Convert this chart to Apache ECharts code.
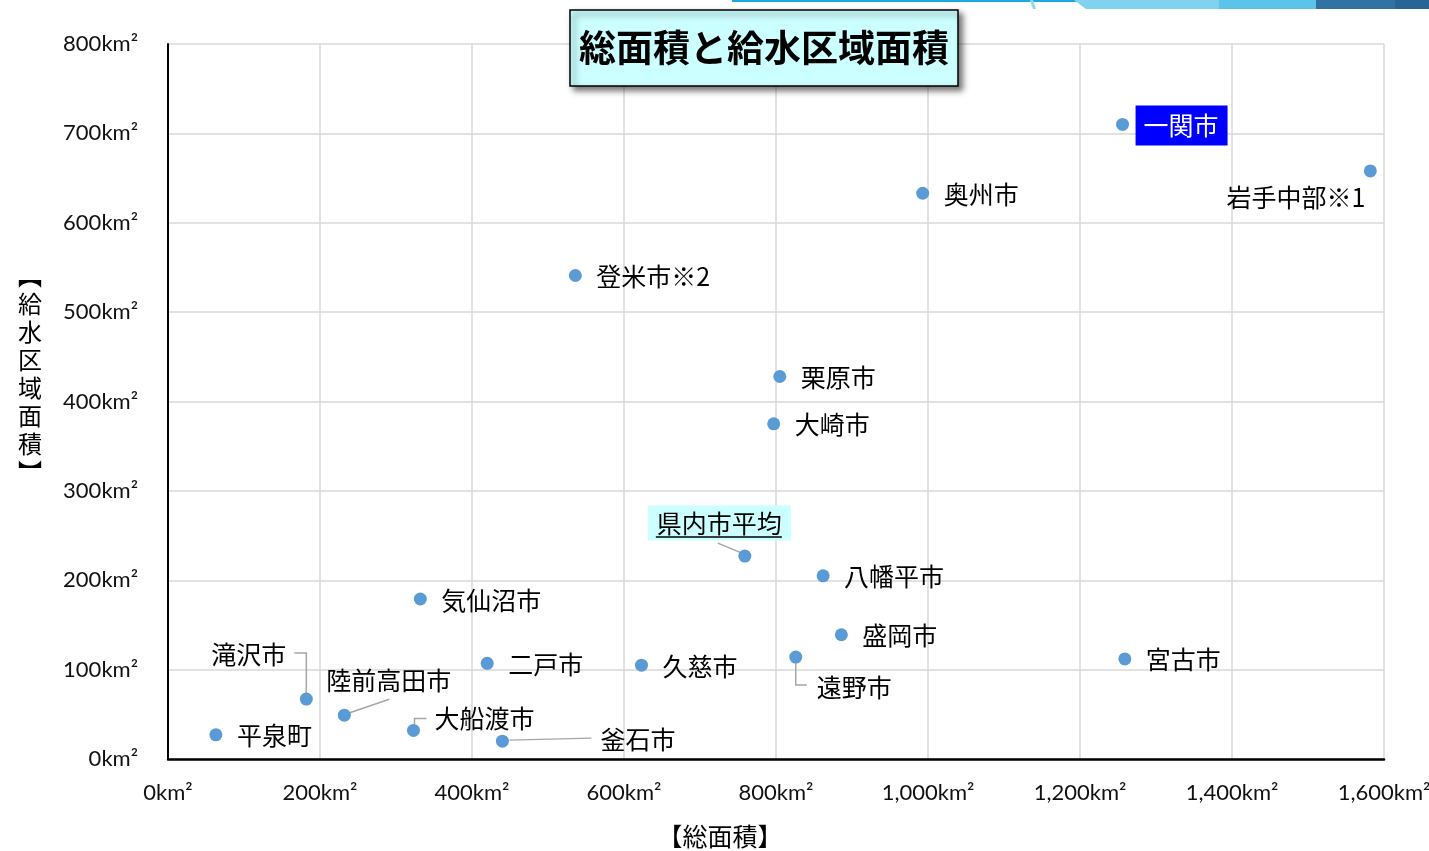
<!DOCTYPE html>
<html><head><meta charset="utf-8">
<script src="https://cdn.jsdelivr.net/npm/echarts@6/dist/echarts.min.js"></script>
<style>html,body{margin:0;padding:0;background:#fff}#c{width:1429px;height:851px}</style>
</head><body><div id="c"></div>
<script>
// ---- data ----
const cities = ['一関市','岩手中部※1','奥州市','登米市※2','栗原市','大崎市','県内市平均','八幡平市','気仙沼市','盛岡市','宮古市','遠野市','二戸市','久慈市','滝沢市','陸前高田市','大船渡市','平泉町','釜石市'];
const totalArea =   [1256, 1582, 993, 536, 805, 797, 759, 862, 332, 886, 1259, 826, 420, 623, 182, 232, 323, 63, 440];
const serviceArea = [ 710,  658, 633, 541, 428, 375, 227, 205, 179, 139,  112, 114, 107, 105,  67,  49,  32, 27,  20];
const xRange = [0, 1600, 200];
const yRange = [0, 800, 100];
const unit = 'km²';
const titleText = '総面積と給水区域面積';
const xName = '【総面積】';
const yNameChars = ['︻','給','水','区','域','面','積','︼'];

// ---- label placement (pixel offsets from the point; style only) ----
const labelCfg = {
  '一関市':     {dx: 13, dy: 1, align: 'left', box: 'blue'},
  '岩手中部※1': {dx: -5, dy: 27, align: 'right'},
  '県内市平均': {dx: -97, dy: -33, align: 'left', box: 'cyan'},
  '遠野市':     {dx: 21, dy: 30, align: 'left'},
  '滝沢市':     {dx: -20, dy: -45, align: 'right'},
  '陸前高田市': {dx: -18, dy: -35, align: 'left'},
  '大船渡市':   {dx: 21, dy: -12, align: 'left'},
  '釜石市':     {dx: 98, dy: -2, align: 'left'}
};
const leaders = {
  '滝沢市':     [[0,-6],[0,-46],[-12,-46]],
  '陸前高田市': [[4,-2],[45,-16]],
  '大船渡市':   [[1,-6],[1,-12],[13,-12]],
  '釜石市':     [[7,-1],[89,-3]],
  '遠野市':     [[0,6],[0,28],[11,28]],
  '県内市平均': [[-3,-3],[-27,-13]]
};

const JP = '"Noto Sans CJK JP", "Noto Sans", sans-serif';
const NUM = 'Lato, "Open Sans", sans-serif';

const chart = echarts.init(document.getElementById('c'), null, {renderer: 'canvas'});

const scatterData = cities.map((c, i) => {
  const cfg = labelCfg[c] || {dx: 21, dy: 1, align: 'left'};
  const label = {
    show: true, position: 'inside', align: cfg.align, verticalAlign: 'middle',
    offset: [cfg.dx, cfg.dy], formatter: c,
    fontSize: 25, fontFamily: JP, color: '#000'
  };
  if (cfg.box === 'blue') {
    Object.assign(label, {backgroundColor: '#0000ff', color: '#fff', padding: [8, 9, 7, 8]});
  } else if (cfg.box === 'cyan') {
    Object.assign(label, {backgroundColor: '#ccffff', padding: [6, 9, 4, 9]});
  }
  return {name: c, value: [totalArea[i], serviceArea[i]], label};
});

const fmt = v => v.toLocaleString('en-US') + unit;

chart.setOption({
  animation: false,
  backgroundColor: '#fff',
  title: {
    text: titleText, left: 570, top: 10,
    backgroundColor: '#ccffff', borderColor: '#000', borderWidth: 1.5,
    padding: [19, 9, 20, 9],
    shadowBlur: 6, shadowColor: 'rgba(0,0,0,0.55)', shadowOffsetX: 4, shadowOffsetY: 4,
    textStyle: {fontSize: 37, fontWeight: 'bold', fontFamily: JP, color: '#000'}
  },
  grid: {left: 168, right: 45, top: 44, bottom: 92, containLabel: false, outerBoundsMode: 'none'},
  xAxis: {
    type: 'value', min: xRange[0], max: xRange[1], interval: xRange[2],
    name: '{t|' + xName + '}{s|}', nameLocation: 'middle', nameGap: 65,
    nameTextStyle: {fontSize: 25, fontFamily: JP, color: '#000', align: 'center',
      rich: {t: {fontSize: 25, fontFamily: JP, color: '#000'}, s: {width: 112}}},
    axisLine: {show: true, lineStyle: {color: '#000', width: 2.5}},
    axisTick: {show: false},
    splitLine: {show: true, lineStyle: {color: '#d9d9d9', width: 1.5}},
    axisLabel: {formatter: fmt, fontSize: 22, fontFamily: NUM, color: '#111', margin: 23}
  },
  yAxis: {
    type: 'value', min: yRange[0], max: yRange[1], interval: yRange[2],
    name: yNameChars.join('\n') + '\n \n ', nameLocation: 'middle', nameRotate: 0, nameGap: 138,
    nameTextStyle: {fontSize: 24, lineHeight: 28, fontFamily: JP, color: '#000', align: 'center', verticalAlign: 'middle'},
    axisLine: {show: true, lineStyle: {color: '#000', width: 2}},
    axisTick: {show: false},
    splitLine: {show: true, lineStyle: {color: '#d9d9d9', width: 1.5}},
    axisLabel: {formatter: fmt, fontSize: 22, fontFamily: NUM, color: '#111', margin: 30}
  },
  graphic: [
    {type: 'rect', shape: {x: 732, y: 0, width: 697, height: 2}, style: {fill: '#1aa9e0'}, silent: true},
    {type: 'polygon', shape: {points: [[1030,0],[1033,0],[1036,9],[1033,9]]}, style: {fill: '#8fd8f2'}, silent: true},
    {type: 'polygon', shape: {points: [[1074,0],[1429,0],[1429,9],[1086,9]]}, style: {fill: '#7fd3ef'}, silent: true},
    {type: 'polygon', shape: {points: [[1219,0],[1429,0],[1429,9],[1219,9]]}, style: {fill: '#5cc3ea'}, silent: true},
    {type: 'polygon', shape: {points: [[1316,0],[1429,0],[1429,9],[1316,9]]}, style: {fill: '#2f72a3'}, silent: true},
    {type: 'polygon', shape: {points: [[1395,0],[1429,0],[1429,9],[1395,9]]}, style: {fill: '#276597'}, silent: true}
  ],
  series: [
    {
      type: 'custom', z: 1, silent: true,
      data: cities.map((c, i) => [totalArea[i], serviceArea[i]]),
      renderItem: (params, api) => {
        const name = cities[params.dataIndex];
        const L = leaders[name];
        if (!L) return null;
        const p = api.coord([api.value(0), api.value(1)]);
        return {
          type: 'polyline',
          shape: {points: L.map(o => [p[0] + o[0], p[1] + o[1]])},
          style: {stroke: '#a6a6a6', lineWidth: 1.5, fill: null}
        };
      }
    },
    {
      type: 'scatter', z: 3, symbol: 'circle', symbolSize: 13,
      itemStyle: {color: '#5b9bd5', opacity: 1},
      data: scatterData
    },
    {
      // underline of the highlighted average label
      type: 'custom', z: 5, silent: true,
      data: cities.map((c, i) => [totalArea[i], serviceArea[i]]),
      renderItem: (params, api) => {
        if ((labelCfg[cities[params.dataIndex]] || {}).box !== 'cyan') return null;
        const p = api.coord([api.value(0), api.value(1)]);
        return {type: 'line', shape: {x1: p[0] - 89, y1: p[1] - 19, x2: p[0] + 37, y2: p[1] - 19},
                style: {stroke: '#000', lineWidth: 1.5}};
      }
    }
  ]
});
</script>
</body></html>
